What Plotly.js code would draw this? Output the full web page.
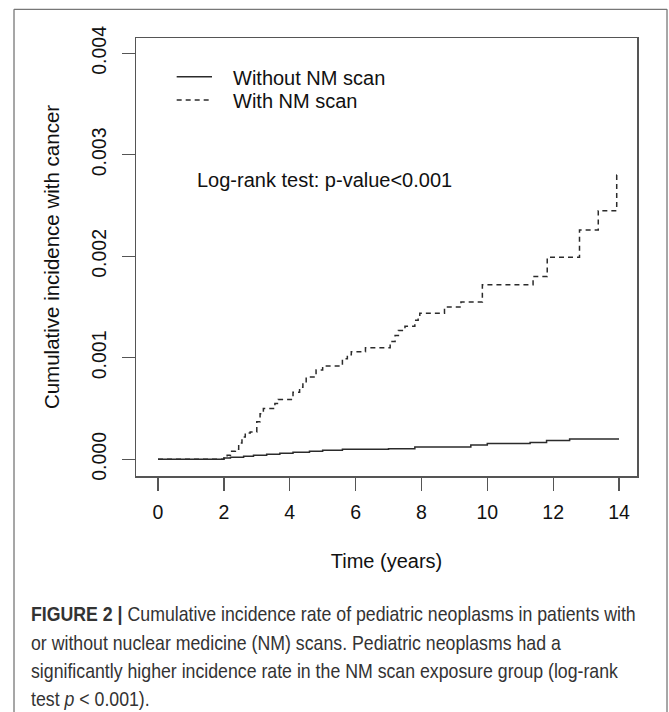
<!DOCTYPE html>
<html>
<head>
<meta charset="utf-8">
<script src="https://cdn.plot.ly/plotly-3.0.1.min.js"></script>
<style>
  html, body { margin: 0; padding: 0; background: #ffffff; }
  #chart { width: 669px; height: 712px; }
</style>
</head>
<body>
<div id="chart"></div>
<script>
// ---- Data ----
const seriesNames = ["Without NM scan", "With NM scan"];

const timeWithout = [0, 2.0, 2.2, 2.6, 2.9, 3.3, 3.7, 4.1, 4.6, 5.0, 5.6, 7.0, 7.8, 9.5, 10.0, 11.3, 11.8, 12.5, 14.0];
const incWithout  = [0, 0.000012, 0.00002, 0.00003, 0.00004, 0.00005, 0.00006, 0.00007, 0.00008, 0.00009, 0.0001, 0.000105, 0.00012, 0.00014, 0.000155, 0.000165, 0.000185, 0.0002, 0.0002];

const timeWith = [0, 2.0, 2.1, 2.2, 2.35, 2.45, 2.55, 2.65, 2.8, 3.0, 3.1, 3.2, 3.55, 3.65, 4.1, 4.3, 4.4, 4.5, 4.8, 5.0, 5.6, 5.75, 5.87, 6.3, 7.05, 7.2, 7.3, 7.5, 7.8, 7.9, 7.95, 8.7, 9.2, 9.85, 11.39, 11.82, 12.8, 13.37, 13.93, 14.0];
const incWith  = [0, 0.00001, 0.00004, 0.00008, 0.0001, 0.00016, 0.00022, 0.00026, 0.00027, 0.00037, 0.00045, 0.0005, 0.00055, 0.00059, 0.00066, 0.00071, 0.00075, 0.00081, 0.00088, 0.00092, 0.00099, 0.00103, 0.00106, 0.0011, 0.00116, 0.00122, 0.00127, 0.00131, 0.00137, 0.0014, 0.00144, 0.0015, 0.00155, 0.00172, 0.0018, 0.00199, 0.00226, 0.00245, 0.0028, 0.0028];

const xTicks = [0, 2, 4, 6, 8, 10, 12, 14];
const yTicks = [0, 0.001, 0.002, 0.003, 0.004];
const yTickLabels = ["0.000", "0.001", "0.002", "0.003", "0.004"];

const xTitle = "Time (years)";
const yTitle = "Cumulative incidence with cancer";
const testText = "Log-rank test: p-value<0.001";
const captionLines = [
  "<b>FIGURE 2 |</b> Cumulative incidence rate of pediatric neoplasms in patients with",
  "or without nuclear medicine (NM) scans. Pediatric neoplasms had a",
  "significantly higher incidence rate in the NM scan exposure group (log-rank",
  "test <i>p</i> &lt; 0.001)."
];

// ---- Styling ----
const FONT = "Liberation Sans, Arial, Helvetica, sans-serif";
const lineColor = "#2b2b2b";
const axisColor = "#555555";

const traces = [
  {
    x: timeWithout, y: incWithout, name: seriesNames[0],
    type: "scatter", mode: "lines",
    line: { shape: "hv", color: lineColor, width: 1.5 },
    showlegend: false, hoverinfo: "x+y"
  },
  {
    x: timeWith, y: incWith, name: seriesNames[1],
    type: "scatter", mode: "lines",
    line: { shape: "hv", color: lineColor, width: 1.5, dash: "5px,4px" },
    showlegend: false, hoverinfo: "x+y"
  }
];

const annotations = [
  { xref: "paper", yref: "paper", x: 0.189, y: 0.9087, xanchor: "left", yanchor: "middle",
    text: seriesNames[0], showarrow: false, font: { family: FONT, size: 20, color: "#111" } },
  { xref: "paper", yref: "paper", x: 0.189, y: 0.856, xanchor: "left", yanchor: "middle",
    text: seriesNames[1], showarrow: false, font: { family: FONT, size: 20, color: "#111" } },
  { xref: "paper", yref: "paper", x: 0.1178, y: 0.6758, xanchor: "left", yanchor: "middle",
    text: testText, showarrow: false, font: { family: FONT, size: 20, color: "#111" } }
];
const capY = [-0.3128, -0.379, -0.4452, -0.5091];
captionLines.forEach((t, i) => {
  annotations.push({
    xref: "paper", yref: "paper", x: -0.2136, y: capY[i], xanchor: "left", yanchor: "middle",
    align: "left", text: t, showarrow: false,
    font: { family: FONT, size: 21, color: "#333" }
  });
});

const shapes = [
  // outer figure frame (open at the bottom)
  { type: "line", xref: "paper", yref: "paper", x0: -0.2435, x1: 1.0599, y0: 1.0655, y1: 1.0655,
    line: { color: "#777", width: 1.3 } },
  { type: "line", xref: "paper", yref: "paper", x0: -0.2435, x1: -0.2435, y0: 1.0655, y1: -0.56,
    line: { color: "#777", width: 1.3 } },
  { type: "line", xref: "paper", yref: "paper", x0: 1.0599, x1: 1.0599, y0: 1.0655, y1: -0.56,
    line: { color: "#777", width: 1.3 } },
  // legend samples
  { type: "line", xref: "paper", yref: "paper", x0: 0.0812, x1: 0.1517, y0: 0.9116, y1: 0.9116,
    line: { color: lineColor, width: 1.5 } },
  { type: "line", xref: "paper", yref: "paper", x0: 0.0812, x1: 0.1517, y0: 0.8584, y1: 0.8584,
    line: { color: lineColor, width: 1.5, dash: "5px,4px" } }
];

const layout = {
  width: 669, height: 712,
  margin: { l: 136, r: 32, t: 38, b: 236, pad: 0 },
  paper_bgcolor: "#ffffff", plot_bgcolor: "#ffffff",
  font: { family: FONT, color: "#111" },
  showlegend: false,
  xaxis: {
    range: [-0.668, 14.546], tickmode: "array", tickvals: xTicks,
    ticktext: xTicks.map(String),
    showgrid: false, zeroline: false,
    showline: true, mirror: true, linecolor: axisColor, linewidth: 1.5,
    ticks: "outside", ticklen: 13, tickwidth: 1.3, tickcolor: axisColor,
    ticklabelstandoff: 5,
    tickfont: { family: FONT, size: 19.5, color: "#111" },
    title: { text: xTitle, font: { family: FONT, size: 20, color: "#111" }, standoff: 32 }
  },
  yaxis: {
    range: [-0.0001645, 0.004151], tickmode: "array", tickvals: yTicks,
    ticktext: yTickLabels, tickangle: -90,
    showgrid: false, zeroline: false,
    showline: true, mirror: true, linecolor: axisColor, linewidth: 1.5,
    ticks: "outside", ticklen: 13, tickwidth: 1.3, tickcolor: axisColor,
    ticklabelstandoff: 8,
    tickfont: { family: FONT, size: 19.5, color: "#111" },
    title: { text: yTitle, font: { family: FONT, size: 20.5, color: "#111" }, standoff: 22 }
  },
  annotations: annotations,
  shapes: shapes
};

const gd = document.getElementById("chart");
Plotly.newPlot(gd, traces, layout, { displayModeBar: false, staticPlot: true }).then(() => {
  // The reference caption uses a condensed face; narrow the caption text horizontally.
  const groups = gd.querySelectorAll("g.annotation");
  const capTexts = [];
  groups.forEach((g, i) => {
    if (i >= 3) {
      const t = g.querySelector("text.annotation-text");
      if (t) capTexts.push(t);
    }
  });
  if (capTexts.length) {
    const w = capTexts[0].getBBox().width;
    const s = w > 0 ? Math.min(1, 605 / w) : 1;
    capTexts.forEach(t => {
      const bb = t.getBBox();
      const prev = t.getAttribute("transform") || "";
      t.setAttribute("transform",
        prev + " translate(" + bb.x + ",0) scale(" + s + ",1) translate(" + (-bb.x) + ",0)");
    });
  }
});
</script>
</body>
</html>
